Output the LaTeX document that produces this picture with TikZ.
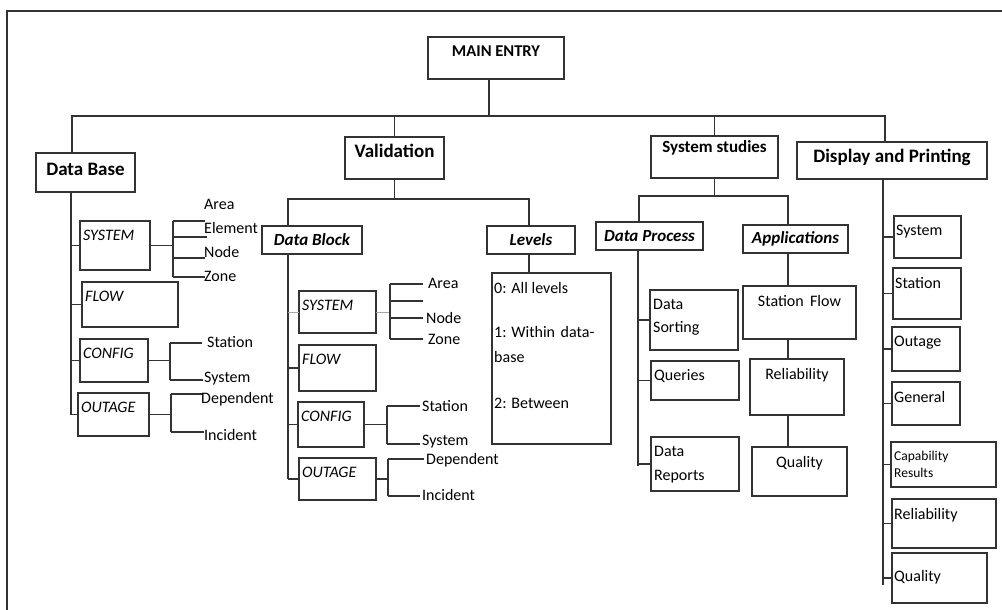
\documentclass[tikz,border=0pt]{standalone}
\usepackage{fontspec}
\setmainfont{Carlito}
\begin{document}
\begin{tikzpicture}[x=1pt, y=-1pt,
    ln/.style={draw=black!80, line width=1.6pt},
    box/.style={draw=black!80, line width=1.6pt, rectangle, inner sep=0pt, outer sep=0pt},
    hd/.style={font=\fontsize{19}{22}\selectfont\bfseries},
    sub/.style={font=\fontsize{17}{20}\selectfont\bfseries\itshape},
    tl/.style={anchor=north west, inner sep=0pt, xshift=3pt, yshift=-9pt, align=left, font=\fontsize{16}{23}\selectfont},
    tc/.style={anchor=north, inner sep=0pt, yshift=-9pt, font=\fontsize{16}{19}\selectfont},
    leaf/.style={anchor=west, inner sep=0pt, font=\fontsize{16}{19}\selectfont}]
\useasboundingbox (0,0) rectangle (1002,610);
% --- cornice ---
\coordinate (frBL) at (7,610);
\coordinate (frTL) at (7,11);
\coordinate (frTR) at (1002,11);
\draw[ln, line width=2pt] (frBL) -- (frTL) -- (frTR);
% --- radice e rami principali ---
\node[box, minimum width=136pt, minimum height=42pt,
    label={[tc, font=\fontsize{16.5}{19}\selectfont\bfseries]north:MAIN ENTRY}] (main) at (496,58) {};
\node[box, minimum width=99pt, minimum height=39pt, label={[tc, hd, yshift=-1pt]north:Data Base}] (db) at (85.5,172.5) {};
\node[box, minimum width=99pt, minimum height=42pt, label={[tc, hd, yshift=2pt]north:Validation}] (val) at (394.5,158) {};
\node[box, minimum width=127pt, minimum height=42pt,
    label={[tc, yshift=5pt, font=\fontsize{17}{20}\selectfont\bfseries]north:System studies}] (sys) at (714.5,157) {};
\node[box, minimum width=190pt, minimum height=37pt, label={[tc, hd, yshift=2pt]north:Display and Printing}] (disp) at (892,160.5) {};
\coordinate (busL) at (72,116);
\coordinate (busR) at (885,116);
\coordinate (mdrop) at (489,116);
\draw[ln] (mdrop |- main.south) -- (mdrop);
\draw[ln] (busL |- db.north) -- (busL) -- (busR) -- (busR |- disp.north);
\draw[ln] (val.north) -- (val.north |- busL);
\draw[ln] (sys.north) -- (sys.north |- busL);
% --- data base ---
\node[box, minimum width=70pt, minimum height=49pt, label={[tl]north west:\textit{SYSTEM}}] (dbsys) at (115,245.5) {};
\node[box, minimum width=96pt, minimum height=45pt, label={[tl]north west:\textit{FLOW}}] (dbflow) at (130,304.5) {};
\node[box, minimum width=68pt, minimum height=43pt, label={[tl]north west:\textit{CONFIG}}] (dbcfg) at (114,360.5) {};
\node[box, minimum width=71pt, minimum height=43pt, label={[tl]north west:\textit{OUTAGE}}] (dbout) at (113.5,414.5) {};
\coordinate (dbend) at (71,415);
\draw[ln] (dbend |- db.south) -- (dbend);
\foreach \b in {dbsys,dbflow,dbcfg,dbout}
    \draw[ln] (\b.west) -- (\b.west -| dbend);
\coordinate (dsj) at (173,221);
\coordinate (dse1) at (205,221);
\coordinate (dse2) at (207,237);
\coordinate (dse3) at (205,258);
\coordinate (dse4) at (205,277);
\draw[ln] (dbsys.east) -- (dbsys.east -| dsj);
\draw[ln] (dsj) -- (dsj |- dse4);
\foreach \e in {dse1,dse2,dse3,dse4}
    \draw[ln] (\e -| dsj) -- (\e);
\node[leaf] (dsl1) at (204,204) {Area};
\node[leaf] (dsl2) at (204,228) {Element};
\node[leaf] (dsl3) at (204,252) {Node};
\node[leaf] (dsl4) at (204,276) {Zone};
\coordinate (dcj) at (170,343);
\coordinate (dce1) at (202,343);
\coordinate (dce2) at (203,380);
\draw[ln] (dbcfg.east) -- (dbcfg.east -| dcj);
\draw[ln] (dcj) -- (dcj |- dce2);
\foreach \e in {dce1,dce2}
    \draw[ln] (\e -| dcj) -- (\e);
\node[leaf] (dcl1) at (207,342) {Station};
\node[leaf] (dcl2) at (204,379) {System};
\coordinate (doj) at (171,394);
\coordinate (doe1) at (203,394);
\coordinate (doe2) at (204,432);
\draw[ln] (dbout.east) -- (dbout.east -| doj);
\draw[ln] (doj) -- (doj |- doe2);
\foreach \e in {doe1,doe2}
    \draw[ln] (\e -| doj) -- (\e);
\node[leaf] (dol1) at (201,399) {Dependent};
\node[leaf] (dol2) at (204,435) {Incident};
% --- validation ---
\node[box, sub, minimum width=100pt, minimum height=28pt] (dblk) at (312,240) {Data Block};
\node[box, sub, minimum width=88pt, minimum height=28pt] (lev) at (531,240) {Levels};
\node[box, minimum width=119pt, minimum height=171pt,
    label={[tl, xshift=-1pt, font=\fontsize{16}{25}\selectfont]north west:{0: All levels\\[19pt]1: Within\hspace{0.35em}data-\\base\\[21pt]2: Between}}] (levbox) at (551.5,358.5) {};
\node[box, minimum width=77pt, minimum height=42pt, label={[tl]north west:\textit{SYSTEM}}] (vsys) at (337.5,312) {};
\node[box, minimum width=77pt, minimum height=46pt, label={[tl]north west:\textit{FLOW}}] (vflow) at (337.5,368) {};
\node[box, minimum width=66pt, minimum height=45pt, label={[tl]north west:\textit{CONFIG}}] (vcfg) at (331,424.5) {};
\node[box, minimum width=77pt, minimum height=42pt, label={[tl]north west:\textit{OUTAGE}}] (vout) at (337.5,479) {};
\coordinate (vbL) at (288,199);
\coordinate (vbR) at (529,199);
\draw[ln] (val.south) -- (val.south |- vbL);
\draw[ln] (vbL |- dblk.north) -- (vbL) -- (vbR) -- (vbR |- lev.north);
\draw[ln] (vbR |- lev.south) -- (vbR |- levbox.north);
\coordinate (vend) at (288,479);
\draw[ln] (vend |- dblk.south) -- (vend);
\foreach \b in {vflow,vcfg,vout}
    \draw[ln] (\b.west) -- (\b.west -| vend);
\draw[ln, draw=black!35, line width=1pt] (vsys.west) -- (vsys.west -| vend);
\coordinate (vsj) at (390,284);
\coordinate (vse1) at (423,284);
\coordinate (vse2) at (423,301);
\coordinate (vse3) at (423,318);
\coordinate (vse4) at (423,339);
\draw[ln, draw=black!35, line width=1pt] (vsys.east) -- (vsys.east -| vsj);
\draw[ln] (vsj) -- (vsj |- vse4);
\foreach \e in {vse1,vse2,vse3,vse4}
    \draw[ln] (\e -| vsj) -- (\e);
\node[leaf] (vsl1) at (428,283) {Area};
\node[leaf] (vsl3) at (426,318) {Node};
\node[leaf] (vsl4) at (428,339) {Zone};
\coordinate (vcj) at (387,406);
\coordinate (vce1) at (420,406);
\coordinate (vce2) at (420,444);
\draw[ln] (vcfg.east) -- (vcfg.east -| vcj);
\draw[ln] (vcj) -- (vcj |- vce2);
\foreach \e in {vce1,vce2}
    \draw[ln] (\e -| vcj) -- (\e);
\node[leaf] (vcl1) at (422,406) {Station};
\node[leaf] (vcl2) at (422,442) {System};
\coordinate (voj) at (388,459);
\coordinate (voe1) at (424,459);
\coordinate (voe2) at (420,496);
\draw[ln] (vout.east) -- (vout.east -| voj);
\draw[ln] (voj) -- (voj |- voe2);
\foreach \e in {voe1,voe2}
    \draw[ln] (\e -| voj) -- (\e);
\node[leaf] (vol1) at (426,460) {Dependent};
\node[leaf] (vol2) at (422,495) {Incident};
% --- system studies ---
\node[box, sub, minimum width=107pt, minimum height=28pt] (dproc) at (649.5,236) {Data Process};
\node[box, sub, minimum width=105pt, minimum height=28pt] (app) at (795.5,239) {Applications};
\node[box, minimum width=88pt, minimum height=60pt, label={[tl]north west:{Data\\Sorting}}] (dsort) at (694,320) {};
\node[box, minimum width=88pt, minimum height=39pt, label={[tl, yshift=1pt]north west:Queries}] (query) at (695,380.5) {};
\node[box, minimum width=88pt, minimum height=54pt, label={[tl, font=\fontsize{16}{24}\selectfont]north west:{Data\\Reports}}] (drep) at (695,464) {};
\node[box, minimum width=113pt, minimum height=53pt, label={[tc]north:Station\hspace{0.4em}Flow}] (stfl) at (799.5,312.5) {};
\node[box, minimum width=94pt, minimum height=56pt, label={[tc]north:Reliability}] (arel) at (797,387) {};
\node[box, minimum width=95pt, minimum height=49pt, label={[tc]north:Quality}] (aqual) at (799.5,471.5) {};
\coordinate (ssL) at (639,196);
\coordinate (ssR) at (788,196);
\draw[ln] (sys.south) -- (sys.south |- ssL);
\draw[ln] (ssL |- dproc.north) -- (ssL) -- (ssR) -- (ssR |- app.north);
\coordinate (spend) at (638,466);
\draw[ln] (spend |- dproc.south) -- (spend);
\foreach \b in {dsort,query,drep}
    \draw[ln] (\b.west) -- (\b.west -| spend);
\draw[ln] (ssR |- app.south) -- (ssR |- stfl.north);
\draw[ln] (ssR |- stfl.south) -- (ssR |- arel.north);
\draw[ln] (ssR |- arel.south) -- (ssR |- aqual.north);
% --- display and printing ---
\node[box, minimum width=67pt, minimum height=42pt, label={[tl, xshift=-1pt]north west:System}] (psys) at (927.5,237) {};
\node[box, minimum width=68pt, minimum height=51pt, label={[tl, xshift=-1pt]north west:Station}] (pstat) at (927,293.5) {};
\node[box, minimum width=68pt, minimum height=44pt, label={[tl, xshift=-1pt]north west:Outage}] (pout) at (926,349) {};
\node[box, minimum width=68pt, minimum height=43pt, label={[tl, xshift=-1pt]north west:General}] (pgen) at (926,403.5) {};
\node[box, minimum width=105pt, minimum height=45pt,
    label={[tl, font=\fontsize{13.5}{17}\selectfont]north west:{Capability\\Results}}] (pcap) at (943.5,464.5) {};
\node[box, minimum width=104pt, minimum height=49pt, label={[tl, xshift=-1pt]north west:Reliability}] (prel) at (944,523.5) {};
\node[box, minimum width=95pt, minimum height=50pt, label={[tl, xshift=-1pt, yshift=-8pt]north west:Quality}] (pqual) at (939.5,578) {};
\coordinate (pend) at (883,585);
\draw[ln] (pend |- disp.south) -- (pend);
\foreach \b in {psys,pstat,pout,pgen,pcap,prel,pqual}
    \draw[ln] (\b.west) -- (\b.west -| pend);
\end{tikzpicture}
\end{document}
